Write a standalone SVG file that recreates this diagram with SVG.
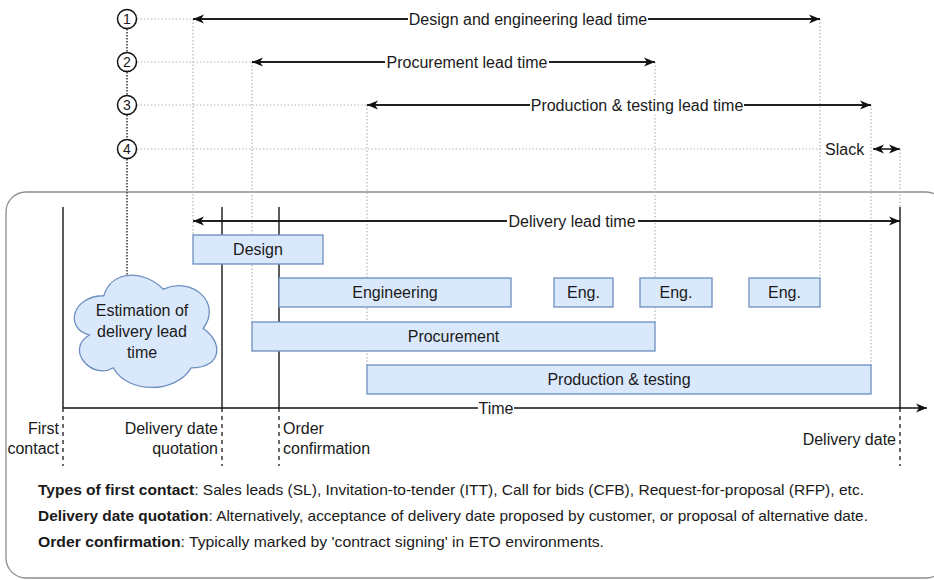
<svg xmlns="http://www.w3.org/2000/svg" width="934" height="580" viewBox="0 0 934 580">
<style>
text{font-family:"Liberation Sans",Arial,sans-serif;fill:#1a1a1a}
.lbl{font-size:16px}
.mid{text-anchor:middle}
.end{text-anchor:end}
.note{font-size:15px}
.b{font-weight:bold}
.bar{fill:#dae8fc;stroke:#6c8ebf;stroke-width:1.3}
.dotl{stroke:#b3b3b3;stroke-width:1.2;stroke-dasharray:1.5 2;fill:none}
.dotd{stroke:#555;stroke-width:1.8;stroke-dasharray:1.5 1.5;fill:none}
.solid{stroke:#333;stroke-width:1.6;fill:none}
.dash{stroke:#444;stroke-width:1.6;stroke-dasharray:4 4;fill:none}
.arr{stroke:#111;stroke-width:1.5;fill:none}
.circ{fill:#fff;stroke:#111;stroke-width:1.5}
</style>
<defs>
<marker id="ah" markerWidth="12" markerHeight="10" refX="11" refY="5" orient="auto-start-reverse" markerUnits="userSpaceOnUse">
<path d="M0,0.5 L11,5 L0,9.5 L3,5 Z" fill="#111"/>
</marker>
</defs>

<rect id="container" x="6" y="192" width="940" height="386" rx="20" ry="20" fill="none" stroke="#8c8c8c" stroke-width="1.3"/>

<g id="guides">
<line class="dotd" x1="127" y1="29" x2="127" y2="52"/>
<line class="dotd" x1="127" y1="72" x2="127" y2="95"/>
<line class="dotd" x1="127" y1="115" x2="127" y2="139"/>
<line class="dotd" x1="127" y1="159" x2="127" y2="276"/>
<line class="dotl" x1="137" y1="19" x2="193" y2="19"/>
<line class="dotl" x1="137" y1="62" x2="252" y2="62"/>
<line class="dotl" x1="137" y1="105" x2="367" y2="105"/>
<line class="dotl" x1="137" y1="149" x2="822" y2="149"/>
<line class="dotl" x1="193" y1="19" x2="193" y2="235"/>
<line class="dotl" x1="252" y1="62" x2="252" y2="322"/>
<line class="dotl" x1="367" y1="105" x2="367" y2="365"/>
<line class="dotl" x1="655" y1="62" x2="655" y2="322"/>
<line class="dotl" x1="820" y1="19" x2="820" y2="278"/>
<line class="dotl" x1="871" y1="105" x2="871" y2="365"/>
<line class="dotl" x1="900" y1="149" x2="900" y2="207"/>
</g>

<g id="timeline">
<line class="solid" x1="63" y1="207" x2="63" y2="408"/>
<line class="solid" x1="222" y1="207" x2="222" y2="408"/>
<line class="solid" x1="279" y1="207" x2="279" y2="408"/>
<line class="solid" x1="900" y1="207" x2="900" y2="408"/>
<line class="dash" x1="63" y1="408" x2="63" y2="466"/>
<line class="dash" x1="222" y1="408" x2="222" y2="466"/>
<line class="dash" x1="279" y1="408" x2="279" y2="466"/>
<line class="dash" x1="900" y1="408" x2="900" y2="466"/>
</g>

<g id="connectors">
<line class="arr" x1="820" y1="19" x2="193" y2="19" marker-end="url(#ah)"/>
<line class="arr" x1="193" y1="19" x2="820" y2="19" marker-end="url(#ah)"/>
<line class="arr" x1="655" y1="62" x2="252" y2="62" marker-end="url(#ah)"/>
<line class="arr" x1="252" y1="62" x2="655" y2="62" marker-end="url(#ah)"/>
<line class="arr" x1="871" y1="105" x2="367" y2="105" marker-end="url(#ah)"/>
<line class="arr" x1="367" y1="105" x2="871" y2="105" marker-end="url(#ah)"/>
<line class="arr" x1="873" y1="149" x2="900" y2="149" marker-start="url(#ah)" marker-end="url(#ah)"/>
<line class="arr" x1="900" y1="221" x2="193" y2="221" marker-end="url(#ah)"/>
<line class="arr" x1="193" y1="221" x2="900" y2="221" marker-end="url(#ah)"/>
<line class="arr" x1="63" y1="408" x2="927" y2="408" marker-end="url(#ah)"/>
<rect x="408" y="9" width="240" height="20" fill="#fff"/>
<text class="lbl mid" x="528" y="25">Design and engineering lead time</text>
<rect x="385" y="52" width="164" height="20" fill="#fff"/>
<text class="lbl mid" x="467" y="68">Procurement lead time</text>
<rect x="530" y="95" width="214" height="20" fill="#fff"/>
<text class="lbl mid" x="637" y="111">Production &amp; testing lead time</text>
<rect x="821" y="139" width="46" height="20" fill="#fff"/>
<text class="lbl" x="825" y="155">Slack</text>
<rect x="507" y="211" width="131" height="20" fill="#fff"/>
<text class="lbl mid" x="572" y="227">Delivery lead time</text>
<rect x="478" y="398" width="36" height="20" fill="#fff"/>
<text class="lbl mid" x="496" y="414">Time</text>
</g>

<g id="c1"><circle class="circ" cx="127" cy="19" r="9.5"/><text x="127" y="24" class="mid" font-size="14">1</text></g>
<g id="c2"><circle class="circ" cx="127" cy="62" r="9.5"/><text x="127" y="67" class="mid" font-size="14">2</text></g>
<g id="c3"><circle class="circ" cx="127" cy="105" r="9.5"/><text x="127" y="110" class="mid" font-size="14">3</text></g>
<g id="c4"><circle class="circ" cx="127" cy="149" r="9.5"/><text x="127" y="154" class="mid" font-size="14">4</text></g>

<g id="cloud">
<path class="bar" d="M103.75,295.75 C71.95,295.75 64,328.5 89.44,335.05 C64,349.46 92.62,380.9 113.29,367.8 C127.6,394 175.3,394 191.2,367.8 C223,367.8 223,341.6 203.1,328.5 C223,302.3 191.2,276.1 163.4,289.2 C143.5,269.55 111.7,269.55 103.75,295.75 Z"/>
<text class="lbl mid" x="142" y="316">Estimation of</text>
<text class="lbl mid" x="142" y="337">delivery lead</text>
<text class="lbl mid" x="142" y="358">time</text>
</g>

<g id="design"><rect class="bar" x="193" y="235" width="130" height="29"/><text class="lbl mid" x="258" y="255">Design</text></g>
<g id="engineering"><rect class="bar" x="279" y="278" width="232" height="29"/><text class="lbl mid" x="395" y="298">Engineering</text></g>
<g id="eng1"><rect class="bar" x="554" y="278" width="59" height="29"/><text class="lbl mid" x="583.5" y="298">Eng.</text></g>
<g id="eng2"><rect class="bar" x="640" y="278" width="72" height="29"/><text class="lbl mid" x="676" y="298">Eng.</text></g>
<g id="eng3"><rect class="bar" x="749" y="278" width="71" height="29"/><text class="lbl mid" x="784.5" y="298">Eng.</text></g>
<g id="procurement"><rect class="bar" x="252" y="322" width="403" height="29"/><text class="lbl mid" x="453.5" y="342">Procurement</text></g>
<g id="production"><rect class="bar" x="367" y="365" width="504" height="29"/><text class="lbl mid" x="619" y="385">Production &amp; testing</text></g>

<g id="milestones">
<text class="lbl end" x="59" y="434">First</text>
<text class="lbl end" x="59" y="454">contact</text>
<text class="lbl end" x="218" y="434">Delivery date</text>
<text class="lbl end" x="218" y="454">quotation</text>
<text class="lbl" x="283" y="434">Order</text>
<text class="lbl" x="283" y="454">confirmation</text>
<text class="lbl end" x="896" y="445">Delivery date</text>
</g>

<g id="notes">
<text class="note" x="38" y="495" textLength="826" lengthAdjust="spacingAndGlyphs"><tspan class="b">Types of first contact</tspan>: Sales leads (SL), Invitation-to-tender (ITT), Call for bids (CFB), Request-for-proposal (RFP), etc.</text>
<text class="note" x="38" y="521" textLength="830" lengthAdjust="spacingAndGlyphs"><tspan class="b">Delivery date quotation</tspan>: Alternatively, acceptance of delivery date proposed by customer, or proposal of alternative date.</text>
<text class="note" x="38" y="547" textLength="566" lengthAdjust="spacingAndGlyphs"><tspan class="b">Order confirmation</tspan>: Typically marked by 'contract signing' in ETO environments.</text>
</g>
</svg>
